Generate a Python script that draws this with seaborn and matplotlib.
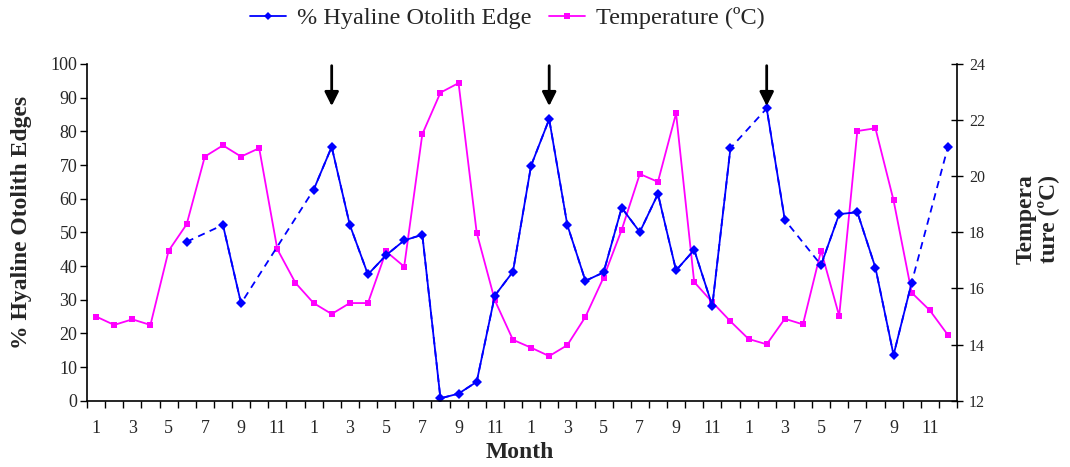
import numpy as np
import pandas as pd
import matplotlib
matplotlib.use("Agg")
import matplotlib.pyplot as plt
from matplotlib.lines import Line2D
from matplotlib.ticker import FixedLocator, MultipleLocator
import seaborn as sns

nan = np.nan
# ---- data ----
month_labels = list(range(1, 13)) * 4
hyaline = [nan, nan, nan, nan, nan, 47.2, nan, 52.2, 28.9, nan, nan, nan,
           62.6, 75.4, 52.2, 37.5, 43.2, 47.6, 49.3, 0.7, 2.1, 5.6, 31.2, 38.3,
           69.8, 83.6, 52.2, 35.6, 38.1, 57.3, 50.1, 61.4, 38.7, 44.8, 28.2, 75.0,
           nan, 86.8, 53.7, nan, 40.3, 55.4, 56.0, 39.5, 13.6, 35.1, nan, 75.4]
temperature = [15.0, 14.7, 14.9, 14.7, 17.34, 18.29, 20.70, 21.1, 20.7, 21.0, 17.4, 16.2,
               15.48, 15.09, 15.48, 15.48, 17.32, 16.78, 21.5, 22.98, 23.32, 17.99, 15.58, 14.17,
               13.89, 13.59, 13.98, 14.99, 16.39, 18.09, 20.08, 19.80, 22.24, 16.23, 15.51, 14.83,
               14.2, 14.01, 14.92, 14.72, 17.35, 15.02, 21.61, 21.71, 19.14, 15.85, 15.22, 14.34]
arrow_idx = [13, 25, 37]
series_names = ["% Hyaline Otolith Edge", "Temperature (ºC)"]

BLUE = "#0000FF"
PINK = "#FF00FF"

sns.set_theme(style="white")
plt.rcParams["font.family"] = ["Liberation Serif", "DejaVu Serif"]

idx = np.arange(len(month_labels))
hy = np.array(hyaline, dtype=float)

# segments of consecutive observed values
seg = np.cumsum(np.isnan(hy))
df_h = pd.DataFrame({"idx": idx, "val": hy, "seg": seg}).dropna()
df_t = pd.DataFrame({"idx": idx, "val": temperature})

fig = plt.figure(figsize=(10.7, 4.67), dpi=100)
ax = fig.add_axes([87 / 1070, 1 - 400.7 / 467, (957 - 87) / 1070, (400.7 - 64) / 467])
ax2 = ax.twinx()

# dashed bridges across missing months
sns.lineplot(data=df_h, x="idx", y="val", ax=ax, color=BLUE, lw=1.3,
             linestyle=(0, (4, 3)), estimator=None, sort=True, legend=False)
# solid segments with diamonds
sns.lineplot(data=df_h, x="idx", y="val", units="seg", estimator=None, ax=ax,
             color=BLUE, lw=1.3, marker="D", markersize=4.8, markeredgewidth=0,
             legend=False)
# temperature
sns.lineplot(data=df_t, x="idx", y="val", ax=ax2, color=PINK, lw=1.3,
             marker="s", markersize=4.8, markeredgewidth=0, estimator=None,
             legend=False)

ax.set_xlim(-0.5, len(month_labels) - 0.5)
ax.set_ylim(0, 100)
ax2.set_ylim(12, 24)

# x ticks: labels every other month at centres, tick marks at boundaries
lab_pos = idx[::2]
ax.xaxis.set_major_locator(FixedLocator(lab_pos))
ax.set_xticklabels([str(month_labels[i]) for i in lab_pos], fontsize=13)
ax.xaxis.set_minor_locator(FixedLocator(np.arange(-0.5, len(month_labels), 1)))
ax.tick_params(axis="x", which="major", length=0, pad=14)
ax.tick_params(axis="x", which="minor", length=5, width=1, direction="out",
               color="black", bottom=True)

ax.yaxis.set_major_locator(MultipleLocator(10))
ax.tick_params(axis="y", which="major", length=5, width=1, direction="out",
               labelsize=13, pad=2, color="black", left=True)
ax2.yaxis.set_major_locator(MultipleLocator(2))
ax2.tick_params(axis="y", which="major", length=9, width=1, direction="inout",
                labelsize=11.5, pad=4, color="black", right=True)

for a in (ax, ax2):
    a.spines["top"].set_visible(False)
    for s in ("left", "bottom", "right"):
        a.spines[s].set_color("black")
        a.spines[s].set_linewidth(1.2)
    a.grid(False)
ax.spines["right"].set_visible(False)
ax2.spines["left"].set_visible(False)
ax2.spines["bottom"].set_visible(False)

ax.set_xlabel("Month", fontsize=17, fontweight="bold")
ax.xaxis.set_label_coords(0.498, -0.155)
ax.xaxis.label.set_va("center")
ax.set_ylabel("% Hyaline Otolith Edges", fontsize=17, fontweight="bold")
ax2.set_ylabel("Tempera\nture (ºC)", fontsize=17, fontweight="bold", linespacing=1.0)
ax2.yaxis.set_label_coords(1.068, 0.54)
ax.yaxis.set_label_coords(-0.063, 0.53)

# arrows marking peaks
for i in arrow_idx:
    ax.annotate("", xy=(i, 87.5), xytext=(i, 99.5),
                arrowprops=dict(arrowstyle="-|>,head_length=0.7,head_width=0.35",
                                color="black", lw=2, shrinkA=0, shrinkB=0),
                annotation_clip=False)

handles = [Line2D([], [], color=BLUE, lw=1.3, marker="D", markersize=4, markeredgewidth=0),
           Line2D([], [], color=PINK, lw=1.3, marker="s", markersize=4, markeredgewidth=0)]
fig.legend(handles, series_names, loc="center", bbox_to_anchor=(0.474, 1 - 18 / 467),
           ncol=2, frameon=False, fontsize=17.5, handlelength=1.5, handletextpad=0.45,
           columnspacing=0.7, borderaxespad=0)

ax.set_zorder(ax2.get_zorder() + 1)
ax.patch.set_visible(False)

fig.savefig("out.png", dpi=100, facecolor="white")
